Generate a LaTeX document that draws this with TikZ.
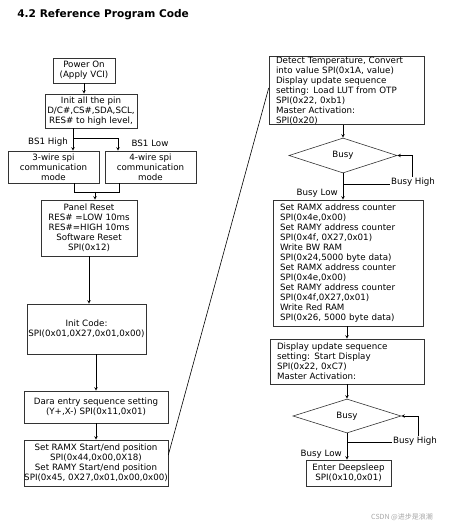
\documentclass[tikz,border=0pt]{standalone}
\usepackage{fontspec}
\setmainfont{DejaVu Sans}
\newfontfamily\cjkfont{Noto Sans CJK SC}
\usetikzlibrary{shapes.geometric}
\tikzset{
	box/.style={draw=black!80, inner sep=0pt, align=center, font=\fontsize{8.7}{10}\selectfont},
	lbox/.style={box, align=left, inner xsep=7pt},
	decision/.style={draw=black!80, diamond, inner sep=0pt, minimum width=108pt, minimum height=35pt, font=\fontsize{8.7}{10}\selectfont},
	lbl/.style={inner sep=1pt, font=\fontsize{8.7}{10}\selectfont},
}
\begin{document}
\begin{tikzpicture}[x=1pt, y=-1pt, >=stealth, line width=0.6pt]
	\useasboundingbox (0,0) rectangle (449,529);
	\node[anchor=base west, inner sep=0pt, font=\bfseries\fontsize{10.6}{12}\selectfont] (title) at (17,17.5) {4.2 Reference Program Code};

	\node[box, minimum width=62, minimum height=25] (power) at (84,70.5) {Power On\\(Apply VCI)};
	\node[box, minimum width=92, minimum height=34] (initpin) at (91,111) {Init all the pin\\D/C\#,CS\#,SDA,SCL,\\RES\# to high level,};
	\node[box, minimum width=91, minimum height=32] (wire3) at (53.5,167) {3-wire spi\\communication\\mode};
	\node[box, minimum width=91, minimum height=32] (wire4) at (150.5,167) {4-wire spi\\communication\\mode};
	\node[box, minimum width=96, minimum height=56] (reset) at (89,228) {Panel Reset\\RES\# =LOW 10ms\\RES\#=HIGH 10ms\\Software Reset\\SPI(0x12)};
	\node[box, minimum width=119, minimum height=50] (initcode) at (86.5,329) {Init Code:\\SPI(0x01,0X27,0x01,0x00)};
	\node[box, minimum width=144, minimum height=32] (entry) at (96,407) {Dara entry sequence setting\\(Y+,X-) SPI(0x11,0x01)};
	\node[box, minimum width=144, minimum height=46] (ramxy) at (96,463) {Set RAMX Start/end position\\SPI(0x44,0x00,0X18)\\Set RAMY Start/end position\\SPI(0x45, 0X27,0x01,0x00,0x00)};

	\node[lbox, text width=141pt, minimum height=67] (detect) at (346.5,90.5) {Detect Temperature, Convert\\into value SPI(0x1A, value)\\Display update sequence\\setting: Load LUT from OTP\\SPI(0x22, 0xb1)\\Master Activation:\\SPI(0x20)};
	\node[decision] (busy1) at (343,155.5) {Busy};
	\node[lbox, text width=136pt, minimum height=126] (ramwrite) at (348,263) {Set RAMX address counter\\SPI(0x4e,0x00)\\Set RAMY address counter\\SPI(0x4f, 0X27,0x01)\\Write BW RAM\\SPI(0x24,5000 byte data)\\Set RAMX address counter\\SPI(0x4e,0x00)\\Set RAMY address counter\\SPI(0x4f,0X27,0x01)\\Write Red RAM\\SPI(0x26, 5000 byte data)};
	\node[lbox, text width=140pt, minimum height=45] (display) at (347,361.5) {Display update sequence\\setting: Start Display\\SPI(0x22, 0xC7)\\Master Activation:};
	\node[decision, minimum height=34pt] (busy2) at (347,416) {Busy};
	\node[box, minimum width=85, minimum height=26] (sleep) at (348.5,473) {Enter Deepsleep\\SPI(0x10,0x01)};

	\coordinate (fork3) at (73,138);
	\coordinate (fork4) at (118,138);
	\coordinate (join3) at (74,192);
	\coordinate (join4) at (119,192);
	\coordinate (join) at (95,192);
	\coordinate (high1) at (412,184);
	\coordinate (high2) at (418,442);

	\draw[->] (power.south) -- (power.south |- initpin.north);
	\draw[->] (fork3 |- initpin.south) -- (fork3 |- wire3.north);
	\draw[->] (fork3) -- (fork4) -- (fork4 |- wire4.north);
	\draw (join3 |- wire3.south) -- (join3) -- (join4) -- (join4 |- wire4.south);
	\draw[->] (join) -- (join |- reset.north);
	\draw[->] (reset) -- (reset |- initcode.north);
	\draw[->] (entry |- initcode.south) -- (entry.north);
	\draw[->] (entry) -- (ramxy);
	\draw ([yshift=8pt]ramxy.east) -- ([yshift=2.5pt]detect.west);

	\draw[->] (busy1 |- detect.south) -- (busy1.north);
	\draw[->] (busy1.south) -- (busy1.south |- ramwrite.north);
	\draw[->] (busy1.south |- high1) -- (high1) -- (high1 |- busy1.east) -- (busy1.east);
	\draw[->] (display |- ramwrite.south) -- (display.north);
	\draw[->] (busy2 |- display.south) -- (busy2.north);
	\draw[->] (busy2.south) -- (busy2.south |- sleep.north);
	\draw[->] (busy2.south |- high2) -- (high2) -- (high2 |- busy2.east) -- (busy2.east);

	\node[lbl] (bshigh) at (48,142) {BS1 High};
	\node[lbl] (bslow) at (150,143) {BS1 Low};
	\node[lbl, fill=white] (busyhigh1) at (413,182) {Busy High};
	\node[lbl, anchor=east] (busylow1) at (339,193) {Busy Low};
	\node[lbl, fill=white] (busyhigh2) at (415,441) {Busy High};
	\node[lbl, anchor=east] (busylow2) at (343,454) {Busy Low};

	\node[text=black!35, font=\cjkfont\fontsize{7}{8}\selectfont] (mark) at (402,517) {CSDN @进步是浪潮};
\end{tikzpicture}
\end{document}
